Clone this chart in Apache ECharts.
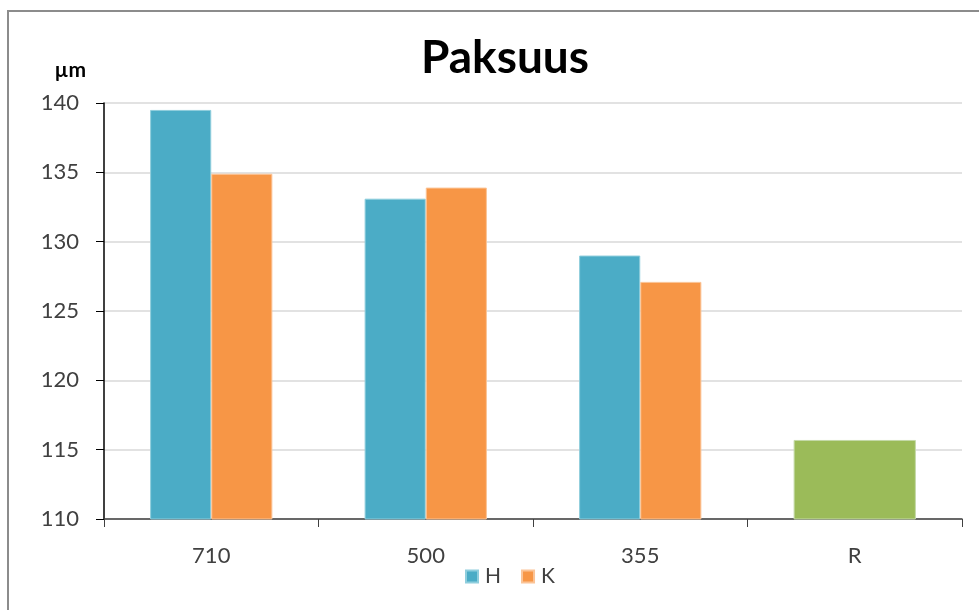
<!DOCTYPE html>
<html><head><meta charset="utf-8">
<script src="https://cdn.jsdelivr.net/npm/echarts@6/dist/echarts.min.js"></script>
<style>html,body{margin:0;padding:0;background:#fff}#c{width:979px;height:610px}</style>
</head><body><div id="c"></div>
<script>
const categories = ['710', '500', '355', 'R'];
const seriesNames = ['H', 'K'];
const valuesH = [139.5, 133.1, 129.0, '-'];
const valuesK = [134.9, 133.9, 127.1, '-'];
const valuesR = ['-', '-', '-', 115.7];
const yTicks = {min: 110, max: 140, interval: 5};
const titleText = 'Paksuus';
const unitText = 'µm';

const colH = '#4BACC6', colK = '#F79646', colR = '#9BBB59';
const font = 'Lato, "Open Sans", sans-serif';
const chart = echarts.init(document.getElementById('c'));
chart.setOption({
  animation: false,
  title: {text: titleText, left: 421, top: 35, padding: 0,
    textStyle: {fontFamily: font, fontSize: 46, fontWeight: 'bold', color: '#000'}},
  grid: {left: 104, right: 17, top: 103, bottom: 91},
  legend: {bottom: 18, left: 460, itemWidth: 12, itemHeight: 12, itemGap: 20,
    icon: 'rect', textStyle: {fontFamily: font, fontSize: 21, color: '#404040', padding: [0,0,0,2]},
    data: seriesNames},
  xAxis: [{type: 'category', data: categories,
    axisLine: {lineStyle: {color: '#404040', width: 1.5}},
    axisTick: {show: true, length: 8, lineStyle: {color: '#404040'}},
    axisLabel: {fontFamily: font, fontSize: 22, color: '#404040', margin: 26}},
    {type: 'category', data: categories, position: 'bottom', show: false}],
  yAxis: {type: 'value', min: yTicks.min, max: yTicks.max, interval: yTicks.interval,
    name: unitText, nameLocation: 'end', nameGap: 22,
    nameTextStyle: {fontFamily: font, fontSize: 21, fontWeight: 'bold', color: '#000', align: 'right', padding: [0, 18, 0, 0]},
    axisLine: {show: true, lineStyle: {color: '#000', width: 1.5}},
    axisTick: {show: true, length: 8, lineStyle: {color: '#000'}},
    axisLabel: {fontFamily: font, fontSize: 22, color: '#404040', margin: 25},
    splitLine: {lineStyle: {color: '#D9D9D9', width: 1.5}}},
  series: [
    {name: 'H', type: 'bar', data: valuesH, barGap: '0%', barCategoryGap: '43%',
      itemStyle: {color: colH, borderColor: '#8FCEDD', borderWidth: 1}},
    {name: 'K', type: 'bar', data: valuesK, barGap: '0%', barCategoryGap: '43%',
      itemStyle: {color: colK, borderColor: '#FBC497', borderWidth: 1}},
    {name: 'R', type: 'bar', xAxisIndex: 1, data: valuesR, barCategoryGap: '43%',
      itemStyle: {color: colR, borderColor: '#C5DAA9', borderWidth: 1}}
  ],
  graphic: [{type: 'rect', shape: {x: 8, y: 11, width: 1000, height: 700},
    style: {fill: 'none', stroke: '#8C8C8C', lineWidth: 2}, silent: true}]
});
</script></body></html>
